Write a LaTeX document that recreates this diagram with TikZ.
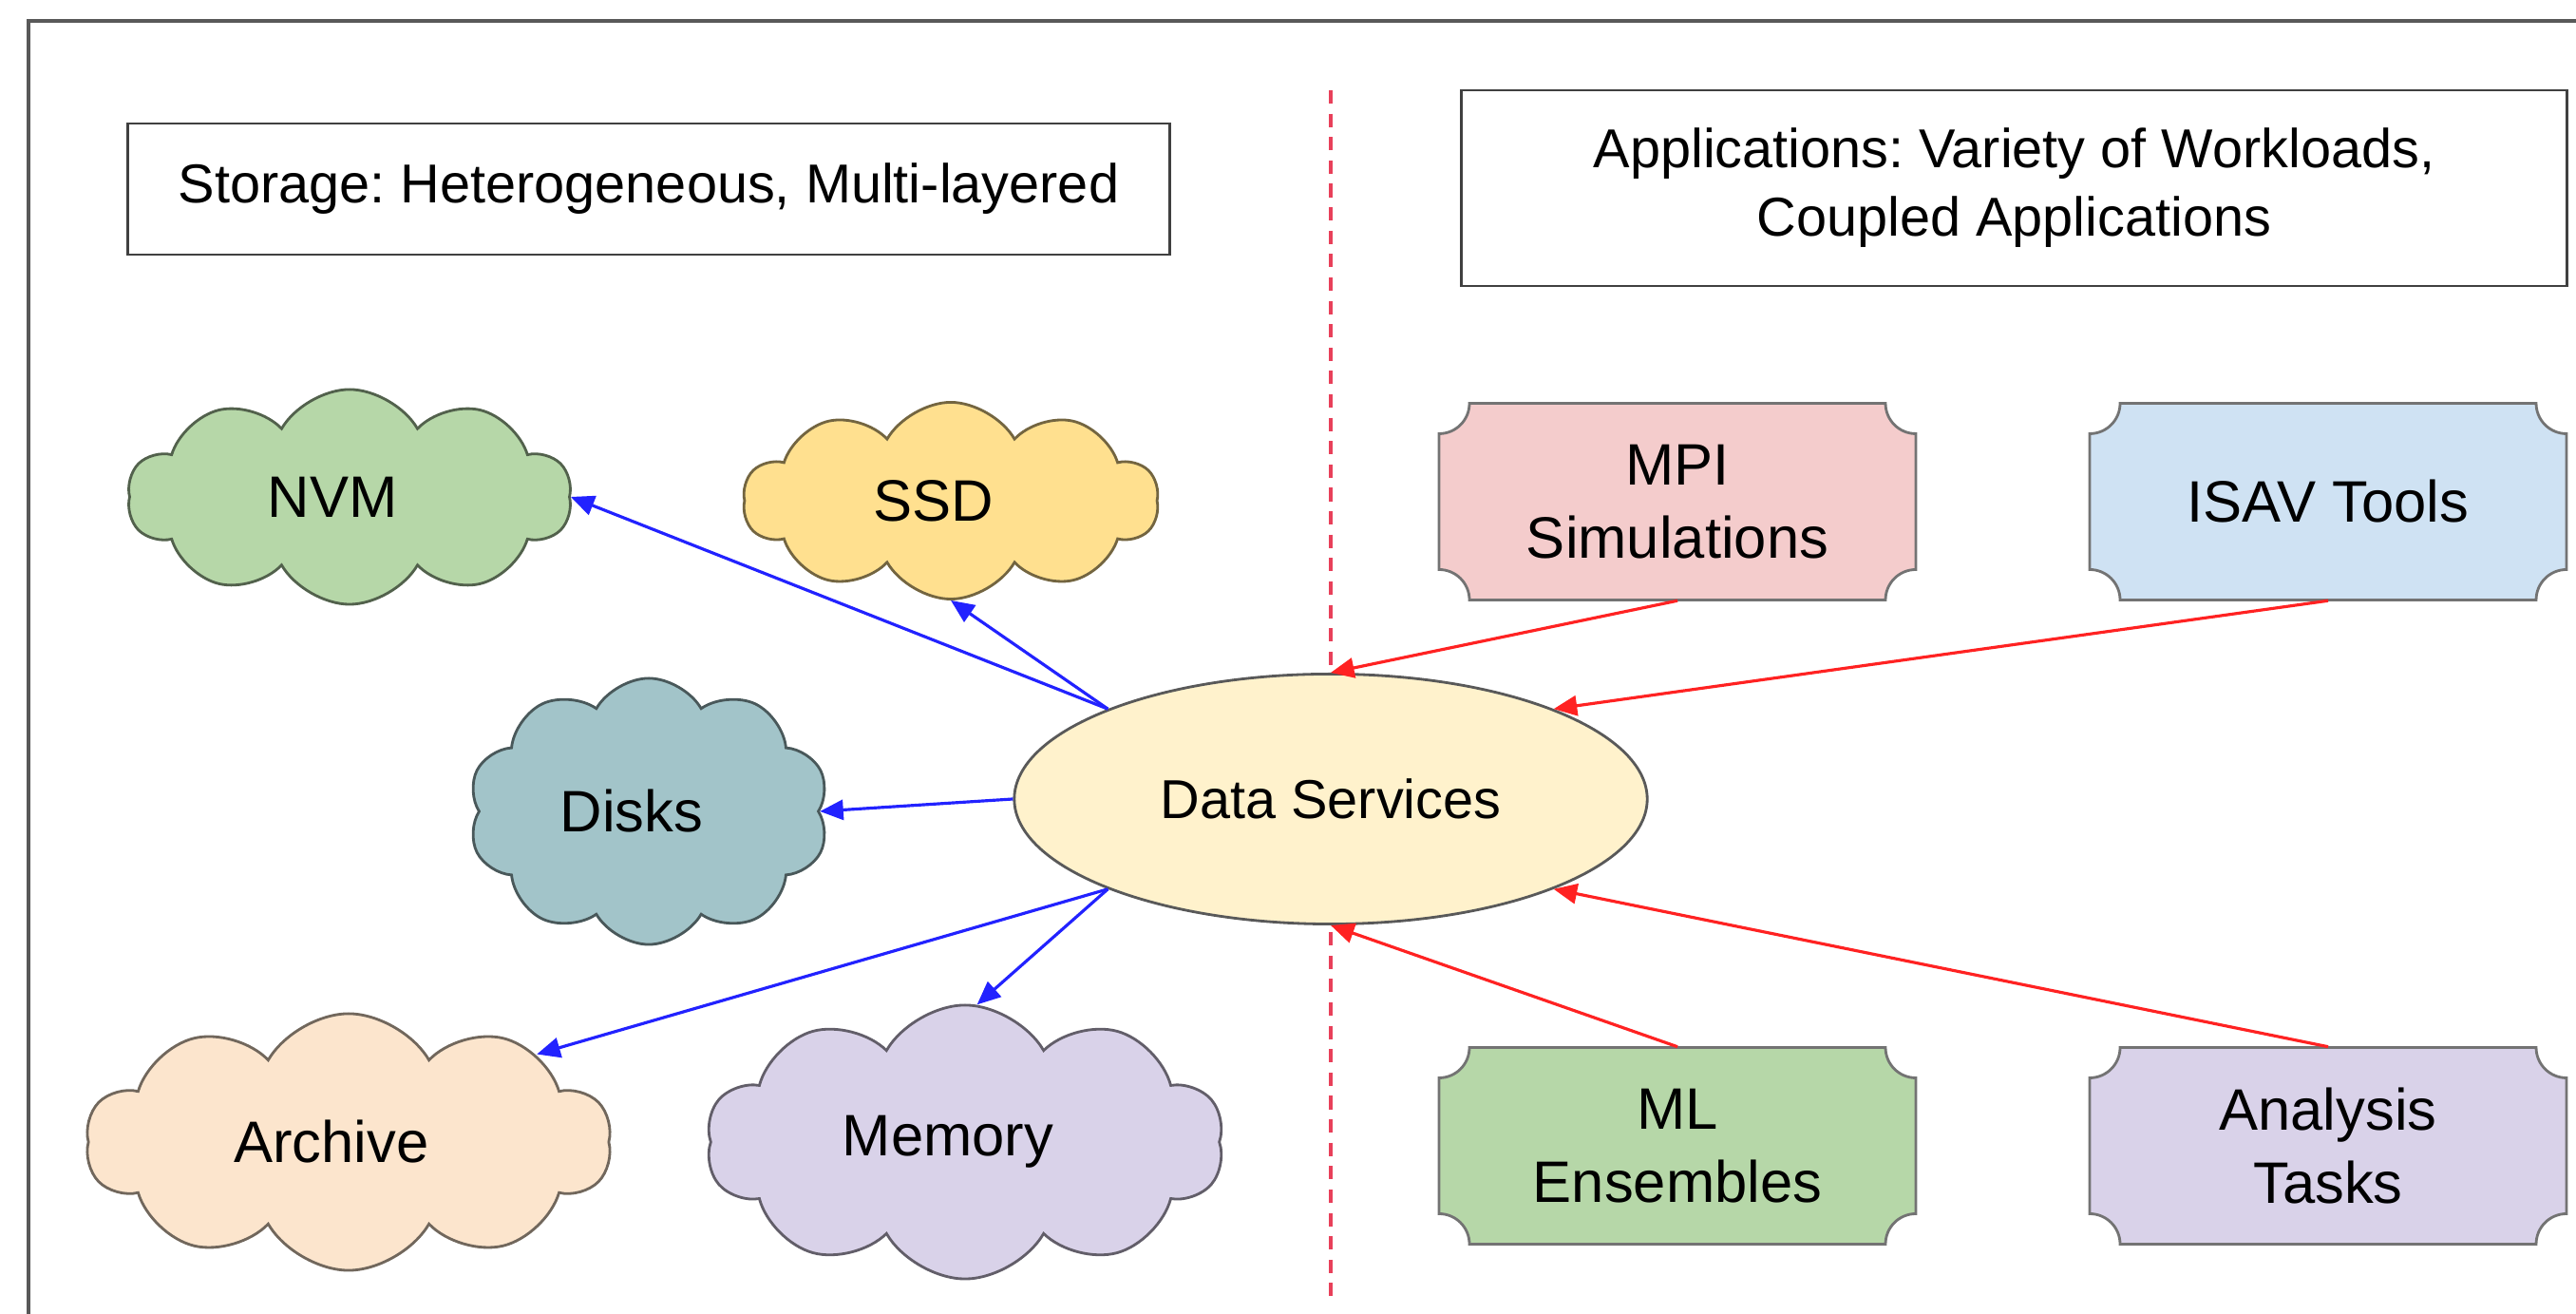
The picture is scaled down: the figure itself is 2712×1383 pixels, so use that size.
\documentclass[tikz,border=0pt]{standalone}
\usepackage{fontspec}
\setmainfont{Liberation Sans}
\frenchspacing
\usetikzlibrary{shapes.symbols,shapes.geometric,arrows.meta,calc}
\definecolor{cNVM}{HTML}{B6D7A8}
\definecolor{cSSD}{HTML}{FFE08F}
\definecolor{cDisk}{HTML}{A2C4C9}
\definecolor{cArch}{HTML}{FCE5CD}
\definecolor{cMem}{HTML}{D9D2E9}
\definecolor{cDS}{HTML}{FFF2CC}
\definecolor{cMPI}{HTML}{F4CCCC}
\definecolor{cISAV}{HTML}{CFE2F3}
\definecolor{cML}{HTML}{B6D7A8}
\definecolor{cAna}{HTML}{D9D2E9}
\definecolor{cBlue}{HTML}{2222FF}
\definecolor{cRed}{HTML}{FF2222}
\definecolor{cDash}{HTML}{E8405A}
\newcommand\plaquebox[5]{% name, center, fill, unused, text
  \filldraw[fill=#3, draw=black!55, line width=0.8pt]
    (#2) ++(-219,103.5) -- ++(438,0)
    arc[start angle=180, end angle=270, radius=32] -- ++(0,-143)
    arc[start angle=90, end angle=180, radius=32] -- ++(-438,0)
    arc[start angle=0, end angle=90, radius=32] -- ++(0,143)
    arc[start angle=270, end angle=360, radius=32] -- cycle;
  \node[plaquetext] (#1) at (#2) {#5};
}
\newcommand\cloudtext[1]{\hspace*{-0.36cm}#1}
\begin{document}
\begin{tikzpicture}[x=0.01cm, y=0.01cm,
  titlebox/.style={draw=black!75, line width=0.8pt, fill=white, align=center,
    font=\fontsize{16.4}{20.5}\selectfont, inner sep=0pt},
  cloudbox/.style={cloud, cloud puffs=10, cloud puff arc=120, cloud ignores aspect,
    draw=#1!45!black, fill=#1, line width=0.8pt, inner sep=0pt,
    font=\fontsize{17.5}{22}\selectfont},
  plaquetext/.style={rectangle, minimum width=5.02cm, minimum height=2.07cm, inner sep=0pt,
    align=center, font=\fontsize{17.5}{22}\selectfont},
  bluearrow/.style={draw=cBlue, line width=0.9pt, -{Triangle[length=7pt,width=6pt]}},
  redarrow/.style={draw=cRed, line width=0.9pt, -{Triangle[length=7pt,width=6pt]}},
]
\useasboundingbox (0,0) rectangle (2712,1383);
\fill[white] (0,0) rectangle (2712,1383);
% outer frame (only left and top visible)
\draw[black!65, line width=1pt] (30,0) -- (30,1361) -- (2712,1361);
% divider
\draw[cDash, line width=0.9pt, dash pattern=on 4pt off 3pt] (1401,1288) -- (1401,8);
% titles
\node[titlebox, minimum width=10.96cm, minimum height=1.38cm] (tstor) at (683,1184)
  {Storage: Heterogeneous, Multi-layered};
\node[titlebox, minimum width=11.63cm, minimum height=2.06cm] (tapp) at (2120.5,1185)
  {Applications: Variety of Workloads,\\Coupled Applications};
% clouds
\node[cloudbox=cNVM, minimum width=4.67cm, minimum height=2.26cm] (nvm) at (368,860) {\cloudtext{NVM}};
\node[cloudbox=cSSD, minimum width=4.37cm, minimum height=2.07cm] (ssd) at (1001,856) {\cloudtext{SSD}};
\node[cloudbox=cDisk, minimum width=3.80cm, minimum height=2.80cm] (disks) at (683,529) {\cloudtext{Disks}};
\node[cloudbox=cArch, minimum width=5.53cm, minimum height=2.70cm] (arch) at (367,181) {\cloudtext{Archive}};
\node[cloudbox=cMem, minimum width=5.45cm, minimum height=2.88cm] (mem) at (1016,181) {\cloudtext{Memory}};
% central ellipse
\node[ellipse, draw=black!65, fill=cDS, line width=0.8pt, minimum width=6.66cm, minimum height=2.63cm,
  inner sep=0pt, font=\fontsize{16.4}{20}\selectfont] (ds) at (1401,542) {Data Services};
% applications
\plaquebox{mpi}{1766,855}{cMPI}{}{MPI\\Simulations}
\plaquebox{isav}{2451,855}{cISAV}{}{ISAV Tools}
\plaquebox{ml}{1766,177}{cML}{}{ML\\Ensembles}
\plaquebox{ana}{2451,177}{cAna}{}{Analysis\\Tasks}
% blue arrows
\draw[bluearrow] (ds.158) -- (nvm.east);
\draw[bluearrow] (ds.158) -- (ssd.south);
\draw[bluearrow] (ds.west) -- (disks.east);
\draw[bluearrow] (ds.202) -- (arch.25);
\draw[bluearrow] (ds.202) -- (mem.85);
% red arrows
\draw[redarrow] (mpi.south) -- (ds.north);
\draw[redarrow] (isav.south) -- (ds.22);
\draw[redarrow] (ml.north) -- (ds.south);
\draw[redarrow] (ana.north) -- (ds.338);
\end{tikzpicture}
\end{document}
